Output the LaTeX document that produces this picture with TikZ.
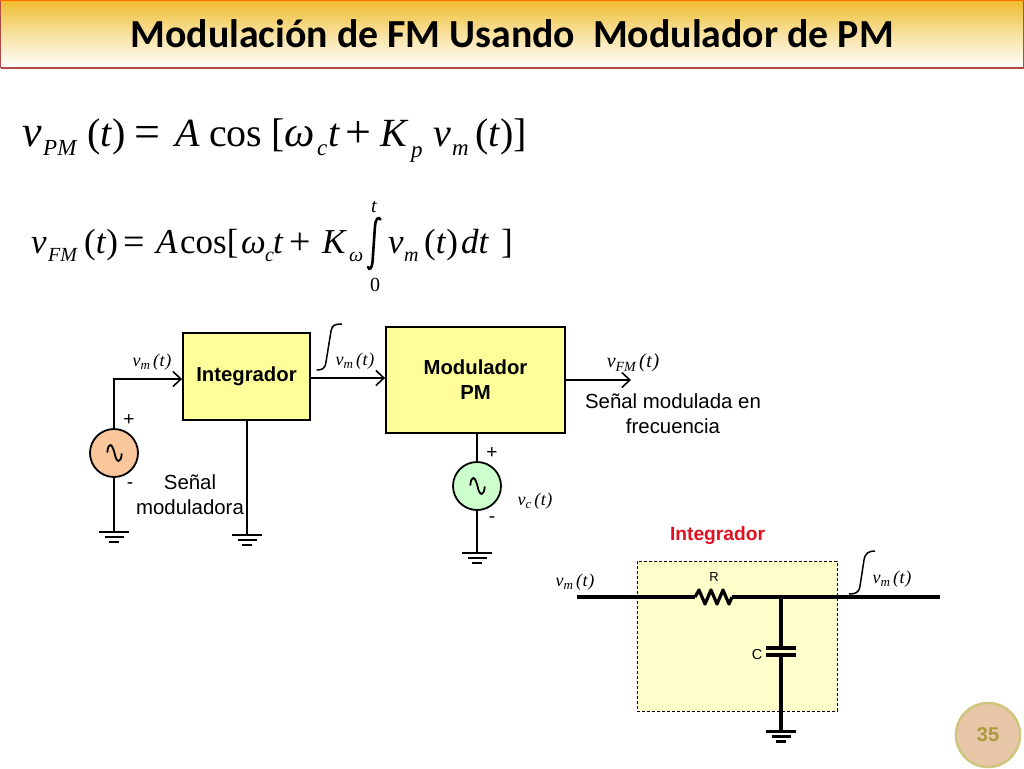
\documentclass[tikz,border=0pt]{standalone}
\usepackage{fontspec}
\setmainfont{Liberation Serif}
\newfontfamily\sansf{Liberation Sans}
\newfontfamily\titlef{Carlito}
\usetikzlibrary{arrows.meta,positioning}
\definecolor{boxyellow}{HTML}{FFFF99}
\definecolor{paleyellow}{HTML}{FFFFCC}
\definecolor{srcorange}{HTML}{F9C79B}
\definecolor{srcgreen}{HTML}{CCFFCC}
\definecolor{titletop}{HTML}{F0BC2C}
\definecolor{titleline}{HTML}{B04A48}
\definecolor{badgefill}{HTML}{E8C6A8}
\definecolor{badgeline}{HTML}{CFC67E}
\definecolor{badgetext}{HTML}{A89A3E}
\definecolor{intred}{HTML}{E01020}
\newcommand{\sg}[3][18]{{\fontsize{#1}{#1}\selectfont\itshape v\raisebox{-0.22em}{\fontsize{\numexpr#1*7/10\relax}{10}\selectfont #2}\,(\kern.6pt #3\kern.6pt)}}
\tikzset{
  blockbox/.style={draw=black,line width=1.8pt,fill=boxyellow,inner sep=0pt,align=center,font=\sansf\bfseries\fontsize{20.3}{25}\selectfont},
  srccirc/.style={circle,draw=black,line width=1.8pt,minimum size=48pt,inner sep=0pt},
  wire/.style={line width=1.8pt,black},
  fatwire/.style={line width=3.2pt,black},
  arrowwire/.style={wire,-{Straight Barb[length=8pt,width=15pt,line width=1.6pt]}},
  lbl/.style={inner sep=0pt,anchor=base},
  eqa/.style={inner sep=0pt,anchor=base west,font=\fontsize{40}{40}\selectfont},
  eqaop/.style={inner sep=0pt,anchor=base west,font=\fontsize{46}{46}\selectfont},
  eqai/.style={inner sep=0pt,anchor=base west,font=\fontsize{40}{40}\selectfont\itshape},
  eqasub/.style={inner sep=0pt,anchor=base west,font=\fontsize{23}{23}\selectfont\itshape},
  eqb/.style={inner sep=0pt,anchor=base west,font=\fontsize{35}{35}\selectfont},
  eqbop/.style={inner sep=0pt,anchor=base west,font=\fontsize{38}{38}\selectfont},
  eqbi/.style={inner sep=0pt,anchor=base west,font=\fontsize{35}{35}\selectfont\itshape},
  eqbsub/.style={inner sep=0pt,anchor=base west,font=\fontsize{20}{20}\selectfont\itshape},
  sanslbl/.style={inner sep=0pt,align=center,font=\sansf\fontsize{20.4}{25}\selectfont},
  signlbl/.style={inner sep=0pt,font=\sansf\fontsize{19}{19}\selectfont},
}
\newcommand{\groundat}[3]{%
  \draw[#3] ([xshift=-15pt]#1) -- ([xshift=15pt]#1);
  \draw[#3] ([xshift=-9.5pt,yshift=-#2]#1) -- ([xshift=9.5pt,yshift=-#2]#1);
  \draw[#3] ([xshift=-5pt,yshift=-2*#2]#1) -- ([xshift=5pt,yshift=-2*#2]#1);}
\newcommand{\sinewave}[1]{%
  \draw[line width=1.8pt,line cap=round] ([shift={(-6.7pt,1pt)}]#1.center)
    .. controls ([shift={(-5.5pt,11pt)}]#1.center) and ([shift={(-2pt,10pt)}]#1.center) .. ([shift={(0.5pt,0pt)}]#1.center)
    .. controls ([shift={(2.5pt,-11pt)}]#1.center) and ([shift={(7pt,-10pt)}]#1.center) .. ([shift={(7.7pt,-1pt)}]#1.center);}
\begin{document}
\begin{tikzpicture}[x=1pt,y=-1pt]
\useasboundingbox (0,0) rectangle (1024,768);
% title
\shade[top color=titletop,bottom color=white,middle color=titletop!45!white] (0,0) rectangle (1024,68);
\draw[titleline,line width=1.2pt] (0.5,68) -- (1023.5,68) (0.5,0) -- (0.5,68) (1023.5,0) -- (1023.5,68);
\draw[orange!85!red,line width=1.2pt] (0,0.5) -- (1024,0.5);
\node[inner sep=0pt,anchor=base,font=\titlef\bfseries\fontsize{39.8}{40}\selectfont] (title) at (512,48) {Modulación de FM Usando\ \ Modulador de PM};
% equation 1
\node[eqai,font=\fontsize{44}{44}\selectfont\itshape] (a1) at (22,146) {v};
\node[eqasub] (a2) at (43,155) {PM};
\node[eqa] (a3) at (87,146) {(\textit{t})};
\node[eqaop] (a4) at (134,147) {=};
\node[eqai] (a5) at (175,146) {A};
\node[eqa] (a6) at (209,146) {cos};
\node[eqa] (a7) at (271,146) {[};
\node[eqai,font=\fontsize{43}{43}\selectfont\itshape] (a8) at (284,146) {ω};
\node[eqasub] (a9) at (317,155) {c};
\node[eqai] (a10) at (328,146) {t};
\node[eqaop] (a11) at (345,147) {+};
\node[eqai] (a12) at (380,146) {K};
\node[eqasub] (a13) at (411,157) {p};
\node[eqai] (a14) at (433,146) {v};
\node[eqasub] (a15) at (452,155) {m};
\node[eqa] (a16) at (475,146) {(\textit{t})]};
% equation 2
\node[eqbi] (b1) at (31,253) {v};
\node[eqbsub] (b2) at (48,261) {FM};
\node[eqb] (b3) at (84,253) {(\textit{t})};
\node[eqbop] (b4) at (123,254) {=};
\node[eqbi] (b5) at (156,253) {A};
\node[eqb] (b6) at (180,253) {cos[};
\node[eqbi] (b7) at (241,253) {ω};
\node[eqbsub] (b8) at (265,261) {c};
\node[eqbi] (b9) at (273,253) {t};
\node[eqbop] (b10) at (289,254) {+};
\node[eqbi] (b11) at (322,253) {K};
\node[eqbsub] (b12) at (349,261) {ω};
\node[eqbi] (b13) at (388,253) {v};
\node[eqbsub] (b14) at (404,261) {m};
\node[eqb] (b15) at (424,253) {(\textit{t})};
\node[eqbi] (b16) at (461,253) {dt};
\node[eqb] (b17) at (501,253) {]};
\node[inner sep=0pt,anchor=base,font=\fontsize{20}{20}\selectfont\itshape] (b18) at (374,212) {t};
\node[inner sep=0pt,anchor=base,font=\fontsize{20}{20}\selectfont] (b19) at (375,291) {0};
\draw[line width=2.6pt,line cap=round] (368,267) .. controls (369.5,271) and (372,268) .. (372.5,262) -- (375,226) .. controls (375.5,219) and (378.5,216) .. (380.5,219.5);
% blocks
\node[blockbox,minimum width=127pt,minimum height=87pt] (integ) at (246.5,376.5) {Integrador};
\node[blockbox,minimum width=179pt,minimum height=106pt] (modpm) at (475.5,380) {Modulador\\PM};
\node[srccirc,fill=srcorange] (s1) at (114,453) {};
\node[srccirc,fill=srcgreen] (s2) at (477,486) {};
\sinewave{s1}
\sinewave{s2}
\coordinate (g1) at (114,532);
\coordinate (g2) at (247,535);
\coordinate (g3) at (477,553);
\coordinate (modin) at (modpm.west |- 0,378);
\coordinate (intout) at (integ.east |- 0,378);
\coordinate (intin) at (integ.west |- 0,379);
\coordinate (intbot) at (247,420);
\coordinate (modbot) at (477,433);
\coordinate (outp) at (631,380);
\coordinate (modout) at (modpm.east |- outp);
\draw[arrowwire] (s1.north) |- (intin);
\draw[arrowwire] (intout) -- (modin);
\draw[arrowwire] (modout) -- (outp);
\draw[wire] (s1.south) -- (g1);
\draw[wire] (intbot) -- (g2);
\draw[wire] (modbot) -- (s2.north);
\draw[wire] (s2.south) -- (g3);
\groundat{g1}{5pt}{line width=1.8pt}
\groundat{g2}{5pt}{line width=1.8pt}
\groundat{g3}{5pt}{line width=1.8pt}
% labels upper
\node[lbl] (l1) at (152,366) {\sg{m}{t}};
\node[lbl] (l2) at (355,365) {\sg{m}{t}};
\node[lbl] (l3) at (633,367) {\sg[20]{FM}{t}};
\node[lbl] (l4) at (535,505) {\sg{c}{t}};
\draw[line width=1.5pt] (316.7,370) .. controls (322,370) and (325,369) .. (326,362) -- (331,331) .. controls (332,325) and (335,324) .. (342,324);
\node[signlbl] (p1) at (129,420) {+};
\node[signlbl] (m1) at (130,486) {-};
\node[signlbl] (p2) at (492,453) {+};
\node[signlbl] (m2) at (492,520) {-};
\node[sanslbl] (t1) at (190,494.5) {Señal\\moduladora};
\node[sanslbl] (t2) at (673,413.5) {Señal modulada en\\frecuencia};
% integrator circuit
\node[inner sep=0pt,anchor=base,font=\sansf\bfseries\fontsize{19.2}{19}\selectfont,text=intred] (t3) at (717.5,540) {Integrador};
\node[draw=black,densely dashed,line width=0.5pt,fill=paleyellow,minimum width=200pt,minimum height=150pt,inner sep=0pt] (panel) at (737,636) {};
\coordinate (in) at (577,597);
\coordinate (out) at (940,597);
\coordinate (ra) at (695,597);
\coordinate (rb) at (732,597);
\coordinate (jn) at (781,597);
\coordinate (ct) at (781,648);
\coordinate (cb) at (781,655);
\coordinate (g4) at (781,731);
\draw[fatwire] (in) -- (ra);
\draw[fatwire,line join=round] (ra) -- ++(4,-7) -- ++(6,14) -- ++(6,-14) -- ++(6,14) -- ++(6,-14) -- ++(6,14) -- (rb);
\draw[fatwire] (rb) -- (out);
\draw[fatwire] (jn) -- (ct);
\draw[fatwire] (cb) -- (g4);
\draw[fatwire] ([xshift=-15pt]ct) -- ([xshift=15pt]ct);
\draw[fatwire] ([xshift=-15pt]cb) -- ([xshift=15pt]cb);
\groundat{g4}{5pt}{line width=3pt}
\node[inner sep=0pt,anchor=base,font=\sansf\fontsize{13}{13}\selectfont] (tr) at (714,581) {R};
\node[inner sep=0pt,anchor=base,font=\sansf\fontsize{14.5}{14}\selectfont] (tc) at (757,659) {C};
\node[lbl] (l5) at (575,586) {\sg{m}{t}};
\node[lbl] (l6) at (892,583) {\sg{m}{t}};
\draw[line width=1.5pt] (849,594) .. controls (855,594) and (859,593) .. (860,586) -- (864,560) .. controls (865,553) and (869,551) .. (875,551);
% badge
\node[circle,draw=badgeline,line width=2.5pt,fill=badgefill,minimum size=64pt,inner sep=0pt,text=badgetext,font=\sansf\bfseries\fontsize{20}{20}\selectfont] (badge) at (988,735) {35};
\end{tikzpicture}
\end{document}
